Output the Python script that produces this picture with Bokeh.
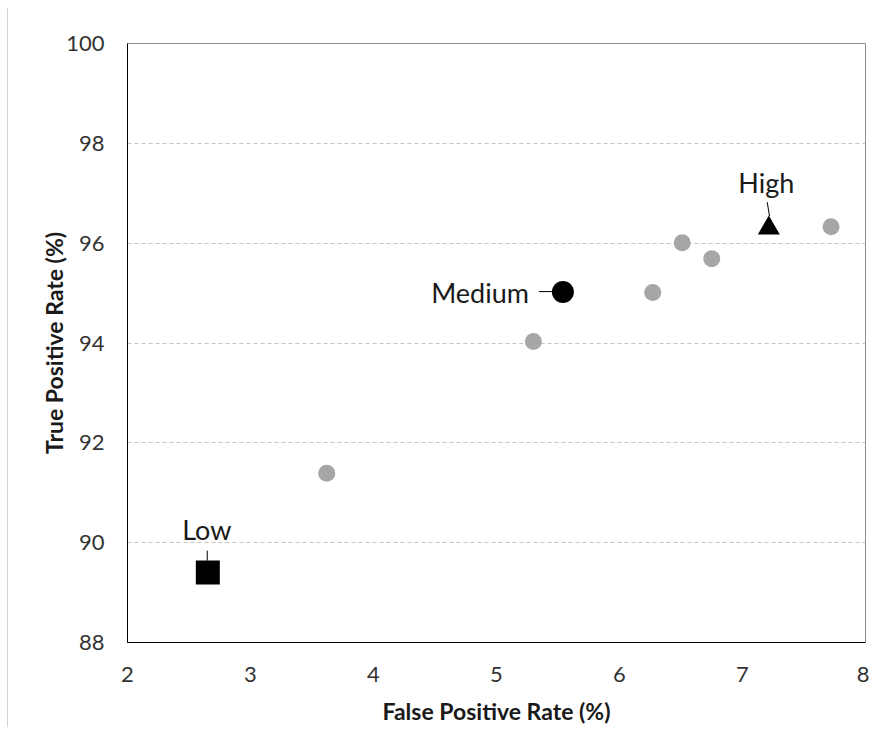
from bokeh.plotting import figure
from bokeh.models import Range1d, FixedTicker
from bokeh.core.properties import value
from bokeh.embed import file_html
from bokeh.resources import INLINE

# ---- data ----
other_fpr = [3.62, 5.30, 6.27, 6.51, 6.75, 7.72]
other_tpr = [91.39, 94.03, 95.01, 96.01, 95.69, 96.33]

low_fpr, low_tpr = [2.653], [89.40]
medium_fpr, medium_tpr = [5.54], [95.02]
high_fpr, high_tpr = [7.214], [96.30]

x_ticks = [2, 3, 4, 5, 6, 7, 8]
y_ticks = [88, 90, 92, 94, 96, 98, 100]

FONT = "Lato"

# frame geometry (pixels) used to convert pixel offsets of leader lines
FRAME_W, FRAME_H = 738, 599
X0, X1, Y0, Y1 = 2, 8, 88, 100
PX_X = (X1 - X0) / FRAME_W
PX_Y = (Y1 - Y0) / FRAME_H

p = figure(width=862, height=719, output_backend="svg", toolbar_location=None,
           x_range=Range1d(X0, X1), y_range=Range1d(Y0, Y1),
           min_border_left=119, min_border_right=5, min_border_top=35, min_border_bottom=85)
p.styles = {"border-left": "1px solid #d4d4d4", "margin-left": "7px", "margin-top": "8px"}

p.outline_line_color = "#8c8c8c"
p.outline_line_width = 1
p.background_fill_color = "white"
p.border_fill_color = "white"

for ax in (p.xaxis[0], p.yaxis[0]):
    ax.axis_line_color = "black"
    ax.axis_line_width = 1
    ax.major_tick_line_color = None
    ax.minor_tick_line_color = None
    ax.major_tick_out = 0
    ax.major_tick_in = 0
    ax.major_label_text_font = FONT
    ax.major_label_text_font_size = "22px"
    ax.major_label_text_color = "#333333"
    ax.axis_label_text_font = FONT
    ax.axis_label_text_font_size = "23px"
    ax.axis_label_text_font_style = "bold"
    ax.axis_label_text_color = "#1a1a1a"

p.xaxis.ticker = FixedTicker(ticks=x_ticks)
p.yaxis.ticker = FixedTicker(ticks=y_ticks)
p.xaxis.axis_label = "False Positive Rate (%)"
p.yaxis.axis_label = "True Positive Rate (%)"
p.xaxis.major_label_standoff = 24
p.yaxis.major_label_standoff = 23
p.xaxis.axis_label_standoff = 12
p.yaxis.axis_label_standoff = -5

p.xgrid.visible = False
p.ygrid.ticker = FixedTicker(ticks=y_ticks[1:-1])
p.ygrid.grid_line_color = "#c4c4c4"
p.ygrid.grid_line_dash = "4 3"
p.ygrid.grid_line_width = 1

# points
p.scatter(other_fpr, other_tpr, marker="circle", size=17, fill_color="#a6a6a6", line_color=None)
p.scatter(medium_fpr, medium_tpr, marker="circle", size=22, fill_color="black", line_color=None)
p.scatter(low_fpr, low_tpr, marker="square", size=24, fill_color="black", line_color=None)
p.scatter(high_fpr, high_tpr, marker="triangle", size=22, fill_color="black", line_color=None)

# labels (pixel offsets from each point)
labels = [
    (low_fpr[0], low_tpr[0], "Low", "center", -1, -43, (-0.6, -22, -0.6, -12)),
    (medium_fpr[0], medium_tpr[0], "Medium", "right", -34, 0, (-24, -0.5, -9, -0.5)),
    (high_fpr[0], high_tpr[0], "High", "center", -2.5, -46, (-1.6, -26, 0.7, -12)),
]
for x, y, t, align, dx, dy, (lx0, ly0, lx1, ly1) in labels:
    p.text([x], [y], text=[t], x_offset=dx, y_offset=dy, text_align=align,
           text_baseline="alphabetic", text_font=value(FONT), text_font_size="27px",
           text_color="#1a1a1a")
    p.segment([x + lx0 * PX_X], [y - ly0 * PX_Y], [x + lx1 * PX_X], [y - ly1 * PX_Y],
              line_color="black", line_width=1)

open("out.html", "w").write(file_html(p, INLINE))
